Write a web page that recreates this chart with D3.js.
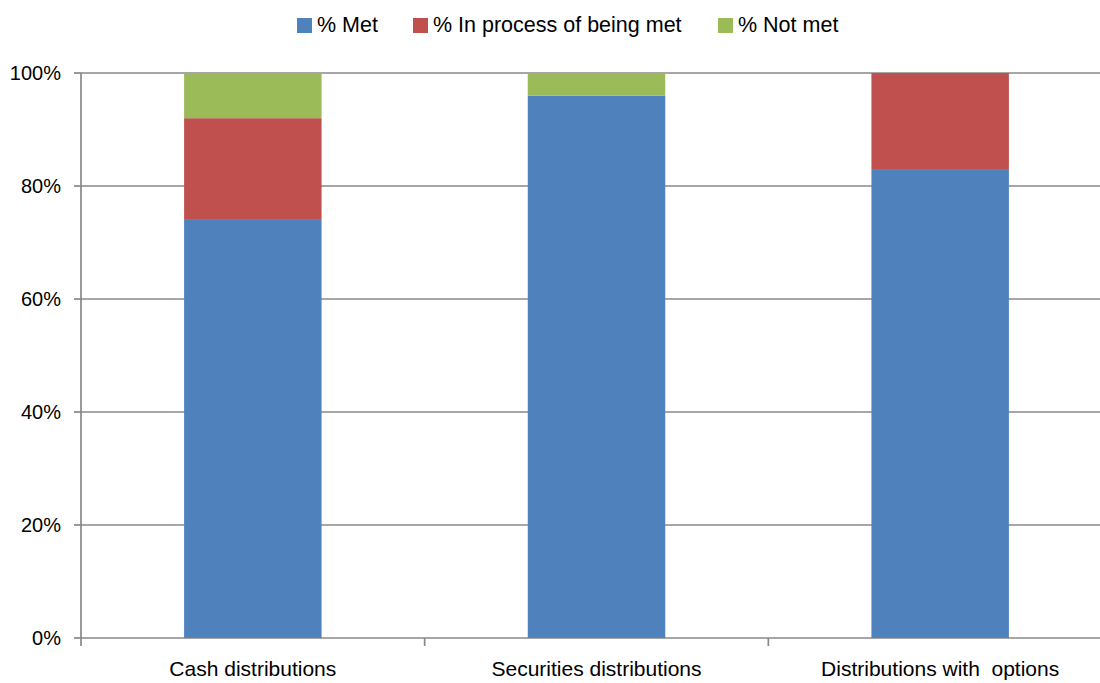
<!DOCTYPE html>
<html>
<head>
<meta charset="utf-8">
<script src="https://cdn.jsdelivr.net/npm/d3@7"></script>
<style>
  body { margin: 0; background: #fff; }
  text { font-family: 'Liberation Sans', Arial, sans-serif; fill: #000; }
</style>
</head>
<body>
<div id="container"></div>
<script>
const categories = ['Cash distributions', 'Securities distributions', 'Distributions with  options'];
const series = ['% Met', '% In process of being met', '% Not met'];
const met = [74, 96, 83];
const inProcess = [18, 0, 17];
const notMet = [8, 4, 0];
const yTicks = [0, 20, 40, 60, 80, 100];

const colors = ['#4F81BD', '#C0504D', '#9BBB59'];

const width = 1100, height = 683;
const margin = {top: 73, right: -12, bottom: 45, left: 81};

const svg = d3.select('#container')
    .append('svg')
    .attr('width', width)
    .attr('height', height);

const x = d3.scaleBand()
    .domain(categories)
    .range([margin.left, width - margin.right])
    .paddingInner(0.6)
    .paddingOuter(0.3);

const y = d3.scaleLinear()
    .domain([0, 100])
    .range([height - margin.bottom, margin.top]);

// gridlines
svg.append('g')
    .selectAll('line')
    .data(yTicks)
    .join('line')
    .attr('x1', margin.left)
    .attr('x2', width - margin.right)
    .attr('y1', d => y(d))
    .attr('y2', d => y(d))
    .attr('stroke', '#888888')
    .attr('stroke-width', 1.7);

// stacked bars
const rows = categories.map((c, i) => ({cat: c, a: met[i], b: inProcess[i], c: notMet[i]}));
const stacked = d3.stack().keys(['a', 'b', 'c'])(rows);

svg.append('g')
    .selectAll('g')
    .data(stacked)
    .join('g')
    .attr('fill', (d, i) => colors[i])
    .selectAll('rect')
    .data(d => d)
    .join('rect')
    .attr('x', d => x(d.data.cat))
    .attr('width', x.bandwidth())
    .attr('y', d => y(d[1]))
    .attr('height', d => y(d[0]) - y(d[1]));

// y axis line
svg.append('line')
    .attr('x1', margin.left).attr('x2', margin.left)
    .attr('y1', y(100)).attr('y2', y(0))
    .attr('stroke', '#888888')
    .attr('stroke-width', 1.7);

// y ticks and labels
svg.append('g')
    .selectAll('line')
    .data(yTicks)
    .join('line')
    .attr('x1', margin.left - 7).attr('x2', margin.left)
    .attr('y1', d => y(d)).attr('y2', d => y(d))
    .attr('stroke', '#888888')
    .attr('stroke-width', 1.7);

svg.append('g')
    .selectAll('text')
    .data(yTicks)
    .join('text')
    .attr('x', margin.left - 20)
    .attr('y', d => y(d))
    .attr('dy', '0.36em')
    .attr('text-anchor', 'end')
    .style('font-size', '20px')
    .text(d => d + '%');

// x axis category ticks
const step = x.step();
const bounds = d3.range(categories.length + 1).map(i => margin.left + i * step);
svg.append('g')
    .selectAll('line')
    .data(bounds)
    .join('line')
    .attr('x1', d => d).attr('x2', d => d)
    .attr('y1', y(0)).attr('y2', y(0) + 8)
    .attr('stroke', '#888888')
    .attr('stroke-width', 1.7);

svg.append('g')
    .selectAll('text')
    .data(categories)
    .join('text')
    .attr('x', d => x(d) + x.bandwidth() / 2)
    .attr('y', 676)
    .attr('text-anchor', 'middle')
    .style('font-size', '21px')
    .style('white-space', 'pre')
    .text(d => d);

// legend
const legendX = [297, 413, 718];
const legend = svg.append('g')
    .selectAll('g')
    .data(series)
    .join('g')
    .attr('transform', (d, i) => `translate(${legendX[i]}, 18)`);

legend.append('rect')
    .attr('width', 15)
    .attr('height', 15)
    .attr('fill', (d, i) => colors[i]);

legend.append('text')
    .attr('x', 20)
    .attr('y', 14)
    .style('font-size', '21.5px')
    .text(d => d);
</script>
</body>
</html>
